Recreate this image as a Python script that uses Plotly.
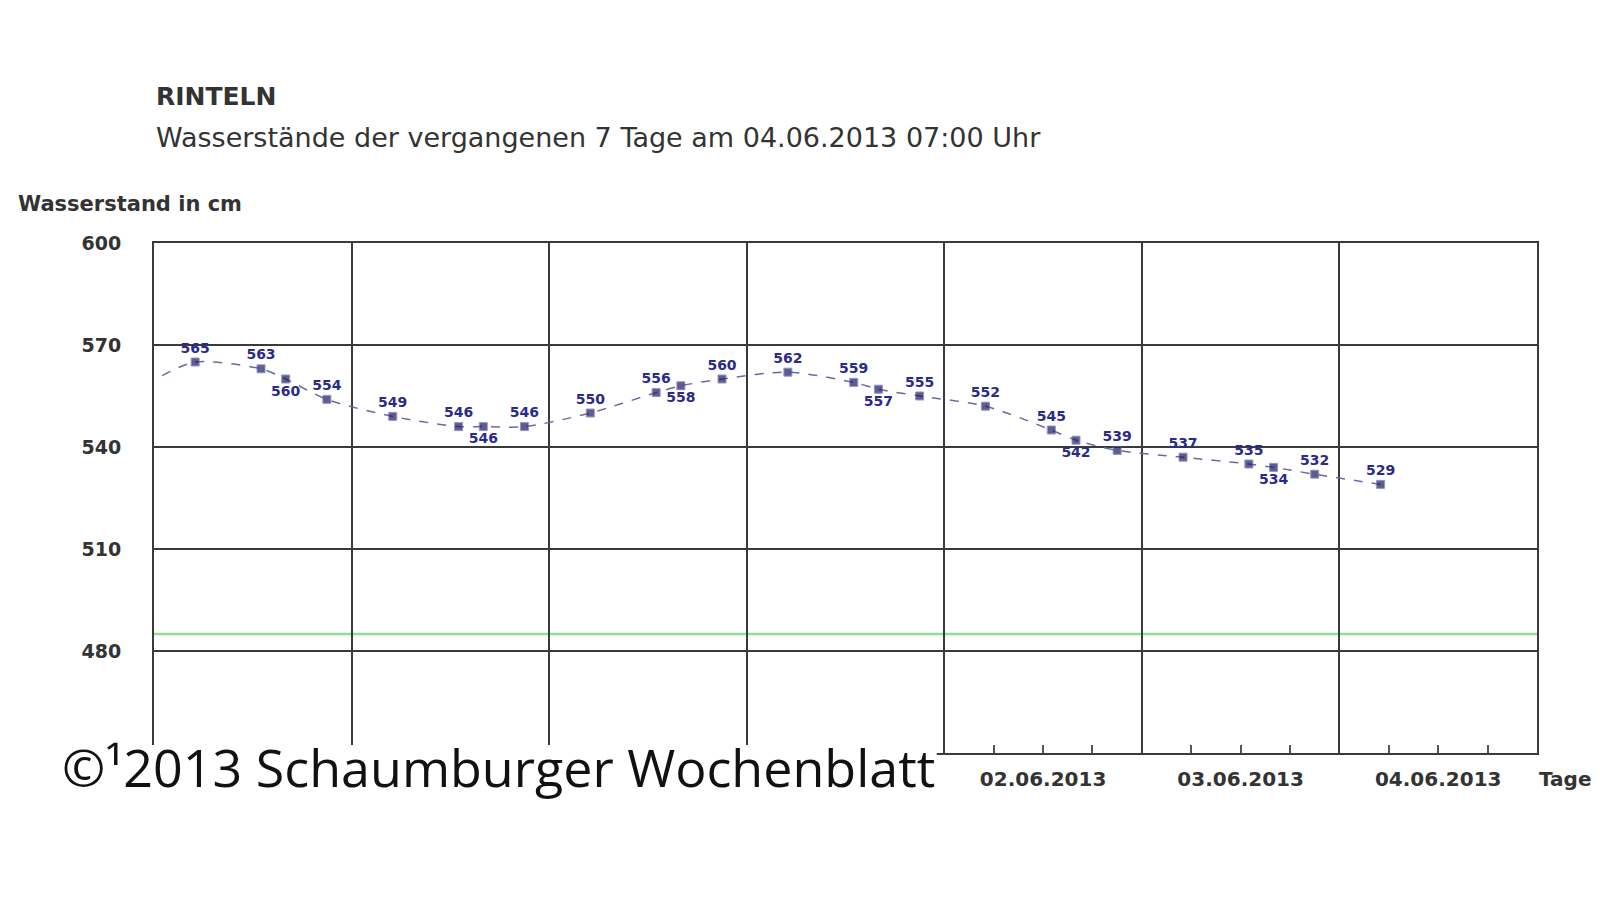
import plotly.graph_objects as go

# water level readings, Rinteln (cm)
times = [
    "2013-05-29 01:00", "2013-05-29 05:00", "2013-05-29 13:00", "2013-05-29 16:00", "2013-05-29 21:00",
    "2013-05-30 05:00", "2013-05-30 13:00", "2013-05-30 16:00", "2013-05-30 21:00",
    "2013-05-31 05:00", "2013-05-31 13:00", "2013-05-31 16:00", "2013-05-31 21:00",
    "2013-06-01 05:00", "2013-06-01 13:00", "2013-06-01 16:00", "2013-06-01 21:00",
    "2013-06-02 05:00", "2013-06-02 13:00", "2013-06-02 16:00", "2013-06-02 21:00",
    "2013-06-03 05:00", "2013-06-03 13:00", "2013-06-03 16:00", "2013-06-03 21:00",
    "2013-06-04 05:00",
]
levels = [561, 565, 563, 560, 554,
          549, 546, 546, 546,
          550, 556, 558, 560,
          562, 559, 557, 555,
          552, 545, 542, 539,
          537, 535, 534, 532,
          529]
labels = [""] + [str(v) for v in levels[1:]]
green_level = 485
y_ticks = [480, 510, 540, 570, 600]
# day labels hidden under the copyright notice
hidden_days = ["29.05.2013", "30.05.2013", "31.05.2013", "01.06.2013", "05.06.2013"]

# 16:00 values get their label below the point
text_pos = ["bottom center" if t.endswith("16:00") else "top center" for t in times]
marker_size = [0] + [8] * (len(levels) - 1)

blue = "#1a1a66"
grid = "#3a3a3a"

fig = go.Figure()

fig.add_trace(go.Scatter(
    x=times, y=levels, mode="lines+markers+text",
    line=dict(color="#6a6a9e", width=1.5, dash="dash", shape="spline", smoothing=0.8),
    marker=dict(color=blue, size=marker_size, symbol="square"),
    text=labels, textposition=text_pos,
    textfont=dict(family="DejaVu Sans", size=14, color="#2a2a8a", weight="bold"),
    showlegend=False, cliponaxis=False,
))

# green reference level
fig.add_shape(type="line", xref="paper", x0=0, x1=1, yref="y",
              y0=green_level, y1=green_level,
              line=dict(color="#93dc93", width=2.5), layer="below")

# white patch behind the copyright notice
fig.add_shape(type="rect", xref="paper", yref="paper",
              x0=-0.07, x1=0.566, y0=-0.124, y1=0.0157,
              fillcolor="white", line=dict(width=0), layer="above")

fig.update_layout(
    width=1600, height=900,
    margin=dict(l=146, r=71, t=235, b=155),
    plot_bgcolor="white", paper_bgcolor="white",
    font=dict(family="DejaVu Sans", color="#333333"),
)

fig.update_xaxes(
    type="date",
    range=["2013-05-29", "2013-06-05"],
    tick0="2013-05-29", dtick=86400000,
    tickformat="%d.%m.%Y", ticklabelmode="period",
    labelalias={d: "" for d in hidden_days},
    ticks="", ticklabelstandoff=7,
    showgrid=True, gridcolor=grid, gridwidth=2,
    showline=True, linecolor=grid, linewidth=2, mirror=True,
    tickfont=dict(size=20, color="#333333", weight="bold"),
    minor=dict(tick0="2013-05-29", dtick=21600000, ticks="inside",
               ticklen=8, tickcolor="#555555", tickwidth=1.5, showgrid=False),
    zeroline=False,
)

fig.update_yaxes(
    range=[450, 600], tickvals=y_ticks,
    showgrid=True, gridcolor=grid, gridwidth=2,
    showline=True, linecolor=grid, linewidth=2, mirror=True,
    ticks="", ticklabelstandoff=27,
    tickfont=dict(size=19, color="#333333", weight="bold"),
    zeroline=False,
)

fig.add_annotation(text="RINTELN", xref="paper", yref="paper", x=0, y=1.287,
                   xanchor="left", yanchor="middle", showarrow=False,
                   font=dict(size=25, color="#333333", weight="bold"))
fig.add_annotation(text="Wasserstände der vergangenen 7 Tage am 04.06.2013 07:00 Uhr",
                   xref="paper", yref="paper", x=0, y=1.207,
                   xanchor="left", yanchor="middle", showarrow=False,
                   font=dict(size=27, color="#333333"))
fig.add_annotation(text="Wasserstand in cm", xref="paper", yref="paper",
                   x=-0.1, y=1.076, xanchor="left", yanchor="middle", showarrow=False,
                   font=dict(size=21, color="#333333", weight="bold"))
fig.add_annotation(text="Tage", xref="paper", yref="paper", x=1.0, y=-0.05,
                   xanchor="left", yanchor="middle", showarrow=False,
                   font=dict(size=20, color="#333333", weight="bold"))

# copyright watermark over the bottom left
fig.add_annotation(text="©¹2013 Schaumburger Wochenblatt", xref="paper", yref="paper",
                   x=-0.068, y=-0.026, xanchor="left", yanchor="middle", showarrow=False,
                   font=dict(family="Open Sans", size=52, color="#111111"))

fig.write_html("out.html")
